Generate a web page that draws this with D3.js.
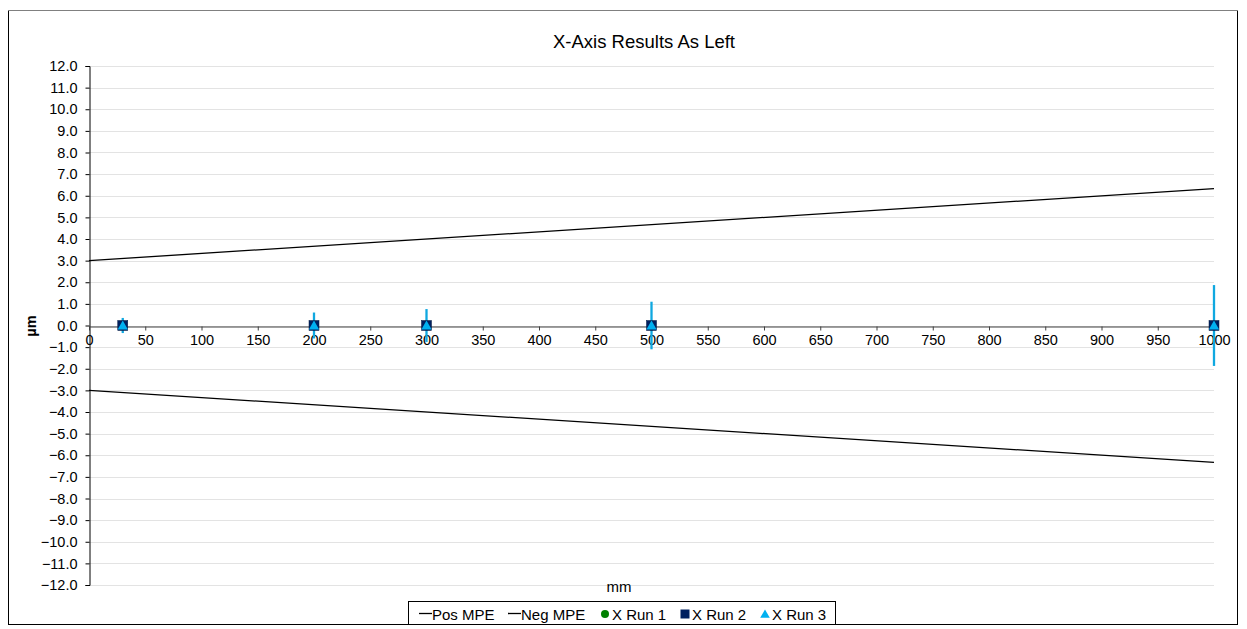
<!DOCTYPE html>
<html><head><meta charset="utf-8">
<script src="https://cdn.jsdelivr.net/npm/d3@7"></script>
<style>body{margin:0;background:#fff;font-family:"Liberation Sans",Arial,sans-serif;}</style>
</head><body>
<svg id="c" width="1247" height="629"></svg>
<script>
const positions = [30, 200, 300, 500, 1000];
const run1 = [0, 0, 0, 0, 0];
const run2 = [0, 0, 0, 0, 0];
const run3 = [0, 0, 0, 0, 0];
const run3Err = [0.35, 0.6, 0.76, 1.1, 1.87];
const mpeX = [0, 1000];
const posMPE = [3.0, 6.33];
const negMPE = [-3.0, -6.33];
const yTicks = d3.range(-12, 12.001, 1);
const xTicks = d3.range(0, 1001, 50);

const svg = d3.select("#c");
const font = '"Liberation Sans",Arial,sans-serif';
// frame
svg.append("rect").attr("x",8.5).attr("y",10.5).attr("width",1229).attr("height",614)
  .attr("fill","#fff").attr("stroke","#000").attr("stroke-width",1);
svg.append("line").attr("x1",8).attr("x2",1238).attr("y1",10.5).attr("y2",10.5).attr("stroke","#808080");

const x = d3.scaleLinear().domain([0,1000]).range([89,1214]);
const y = d3.scaleLinear().domain([-12,12]).range([585,66]);

// gridlines
svg.append("g").selectAll("line").data(yTicks).join("line")
  .attr("x1",x(0)).attr("x2",x(1000)).attr("y1",d=>Math.round(y(d))+0.5).attr("y2",d=>Math.round(y(d))+0.5)
  .attr("stroke","#e3e3e3").attr("stroke-width",1);

// y axis
const yAxis = d3.axisLeft(y).tickValues(yTicks).tickFormat(d3.format(".1f")).tickSize(4);
const gy = svg.append("g").attr("transform",`translate(${x(0)+0.5},0)`).call(yAxis);
gy.select(".domain").attr("stroke","#000");
gy.selectAll(".tick line").attr("stroke","#000");
gy.selectAll("text").attr("font-family",font).attr("font-size",14.5).attr("fill","#000").attr("x",-12);

// x axis at zero
const xAxis = d3.axisBottom(x).tickValues(xTicks).tickFormat(d3.format("d")).tickSize(4).tickSizeOuter(0);
const gx = svg.append("g").attr("transform",`translate(0,${Math.round(y(0))+0.5})`).call(xAxis);
gx.select(".domain").attr("stroke","#404040");
gx.selectAll(".tick line").attr("stroke","#404040");
gx.selectAll("text").attr("font-family",font).attr("font-size",14.5).attr("fill","#000").attr("y",8);

// MPE lines
const line = d3.line().x((d,i)=>x(mpeX[i])).y(d=>y(d));
svg.append("path").attr("d",line(posMPE)).attr("fill","none").attr("stroke","#000").attr("stroke-width",1.3);
svg.append("path").attr("d",line(negMPE)).attr("fill","none").attr("stroke","#000").attr("stroke-width",1.3);

// error bars
svg.append("g").selectAll("line").data(positions).join("line")
  .attr("x1",d=>x(d)).attr("x2",d=>x(d))
  .attr("y1",(d,i)=>y(run3[i]+run3Err[i])).attr("y2",(d,i)=>y(run3[i]-run3Err[i]))
  .attr("stroke","#0fa8e0").attr("stroke-width",2.3);

// run 1 circles
svg.append("g").selectAll("circle").data(positions).join("circle")
  .attr("cx",d=>x(d)).attr("cy",(d,i)=>y(run1[i])).attr("r",4).attr("fill","#008000");
// run 2 squares
svg.append("g").selectAll("rect").data(positions).join("rect")
  .attr("x",d=>x(d)-5).attr("y",(d,i)=>y(run2[i])-5).attr("width",10).attr("height",10)
  .attr("fill","#002060").attr("stroke","#001840").attr("stroke-width",0.5);
// run 3 triangles
const tri = d3.symbol().type(d3.symbolTriangle).size(45);
svg.append("g").selectAll("path").data(positions).join("path")
  .attr("d",tri).attr("transform",(d,i)=>`translate(${x(d)},${y(run3[i])+1})`).attr("fill","#00b0f0");

// titles
svg.append("text").attr("x",644).attr("y",48).attr("text-anchor","middle")
  .attr("font-family",font).attr("font-size",18.5).text("X-Axis Results As Left");
svg.append("text").attr("x",619).attr("y",592).attr("text-anchor","middle")
  .attr("font-family",font).attr("font-size",15).text("mm");
svg.append("text").attr("transform","translate(36,326) rotate(-90)").attr("text-anchor","middle")
  .attr("font-family",font).attr("font-size",14.5).attr("font-weight","bold").text("µm");

// legend
const lg = svg.append("g");
lg.append("rect").attr("x",408.5).attr("y",601.5).attr("width",427).attr("height",23)
  .attr("fill","#fff").attr("stroke","#000");
const ly = 619.5;
const items = [
  {t:"Pos MPE", k:"line", x:419},
  {t:"Neg MPE", k:"line", x:508},
  {t:"X Run 1", k:"circle", x:600},
  {t:"X Run 2", k:"square", x:680},
  {t:"X Run 3", k:"tri", x:760}
];
items.forEach(it=>{
  if(it.k==="line"){
    lg.append("line").attr("x1",it.x).attr("x2",it.x+13).attr("y1",613.5).attr("y2",613.5).attr("stroke","#000").attr("stroke-width",1.3);
    lg.append("text").attr("x",it.x+13).attr("y",ly).attr("font-family",font).attr("font-size",15).text(it.t);
  } else {
    const cx = it.x+5;
    if(it.k==="circle") lg.append("circle").attr("cx",cx).attr("cy",614).attr("r",4).attr("fill","#008000");
    if(it.k==="square") lg.append("rect").attr("x",cx-4.5).attr("y",609.5).attr("width",9).attr("height",9).attr("fill","#002060");
    if(it.k==="tri") lg.append("path").attr("d",d3.symbol().type(d3.symbolTriangle).size(40)).attr("transform",`translate(${cx},615)`).attr("fill","#00b0f0");
    lg.append("text").attr("x",it.x+12).attr("y",ly).attr("font-family",font).attr("font-size",15).text(it.t);
  }
});
</script>
</body></html>
